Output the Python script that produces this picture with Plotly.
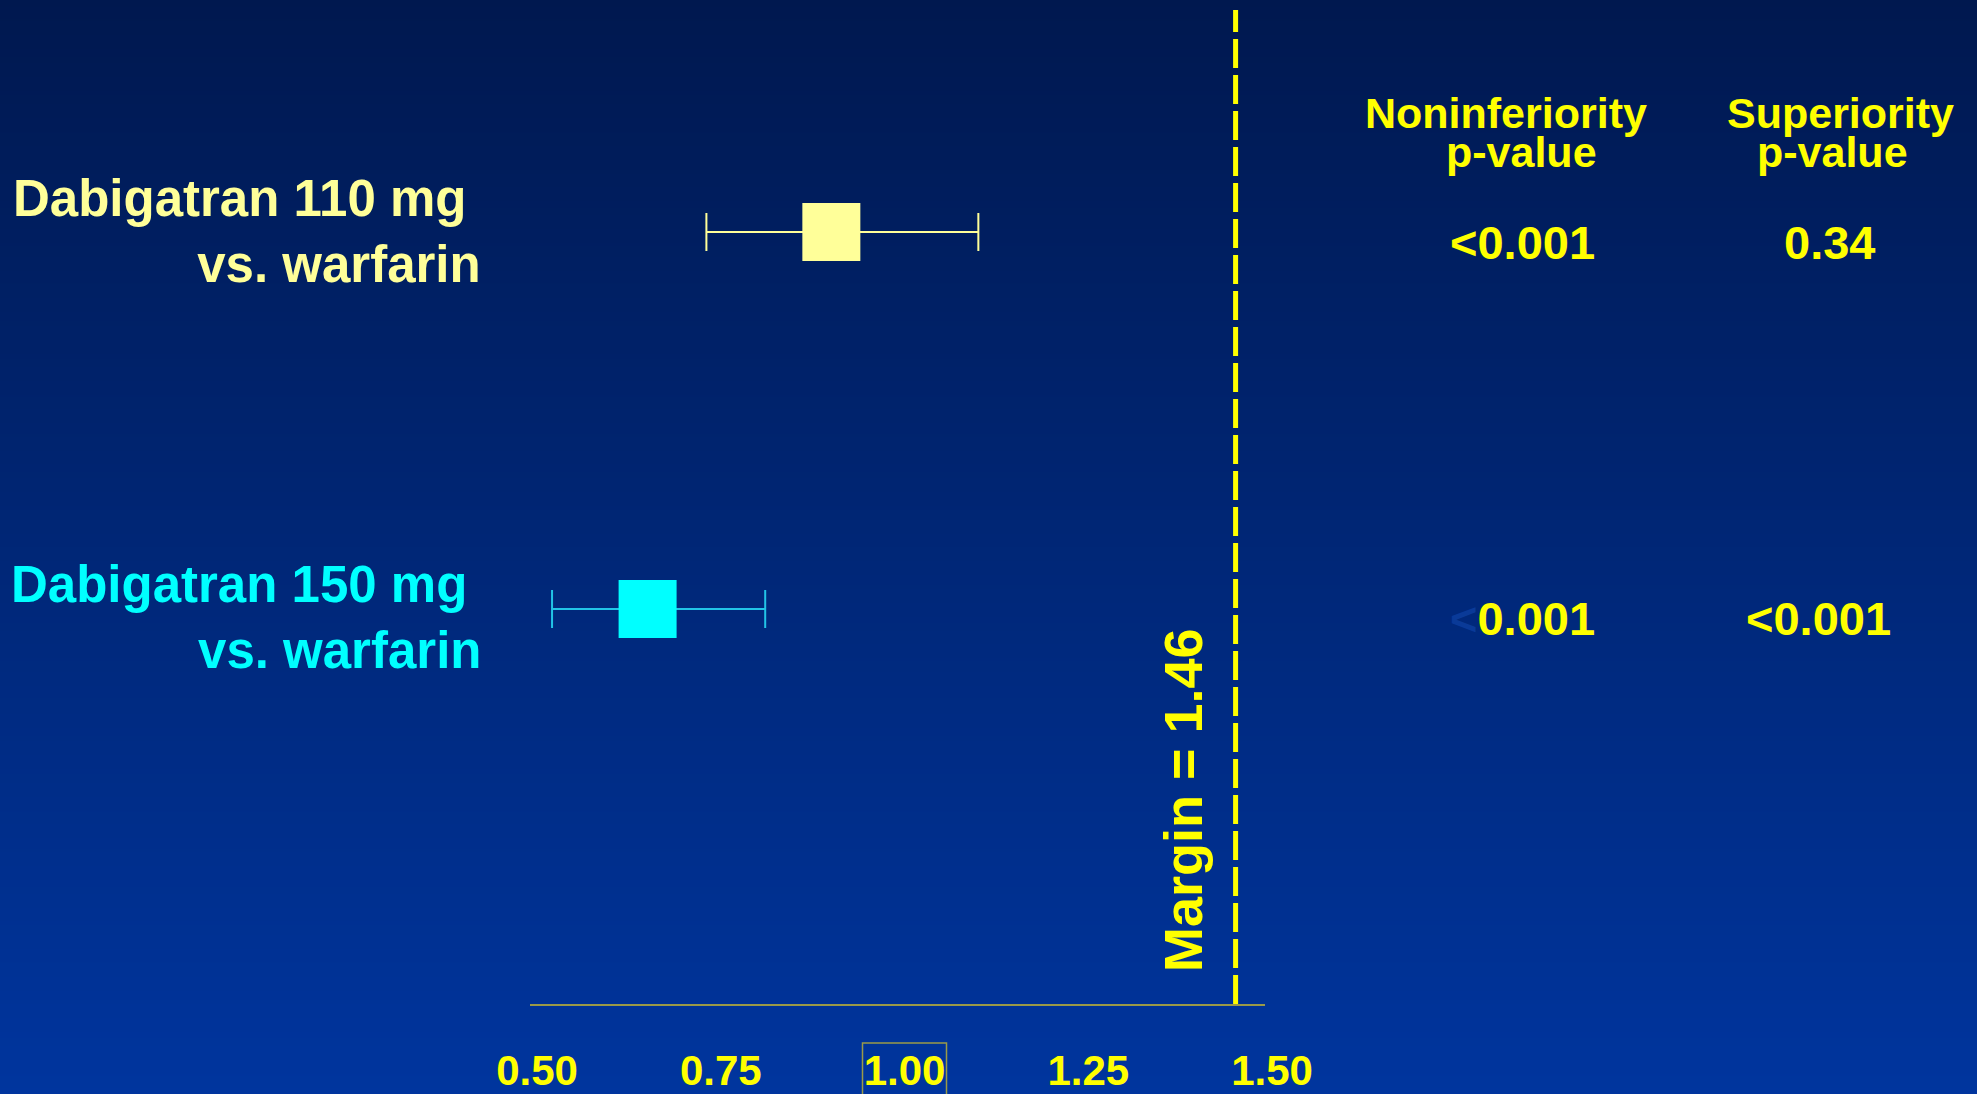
import plotly.graph_objects as go

# ---- data -------------------------------------------------------------
treatments = ["Dabigatran 110 mg", "Dabigatran 150 mg"]
comparator = "vs. warfarin"
risk_ratio = [0.91, 0.66]
ci_low = [0.74, 0.53]
ci_high = [1.11, 0.82]
noninferiority_p = ["<0.001", "<0.001"]
superiority_p = ["0.34", "<0.001"]
noninferiority_margin = 1.46
x_ticks = [0.50, 0.75, 1.00, 1.25, 1.50]
x_tick_labels = ["0.50", "0.75", "1.00", "1.25", "1.50"]
header_noninf = ["Noninferiority", "p-value"]
header_sup = ["Superiority", "p-value"]

# ---- style ------------------------------------------------------------
FONT = "Liberation Sans, Arial, Helvetica, sans-serif"
YELLOW = "#ffff00"
OLIVE = "#9a9a48"
row_fill = ["#ffff99", "#00ffff"]
row_whisker = ["#ffff99", "#22c4e6"]
row_label_color = ["#ffff99", "#00ffff"]
lt_color = [YELLOW, "#0a3a98"]          # colour of the "<" sign in the noninferiority column
row_pos = [2, 1]
label_shift = [1, -8]
value_shift = [-10, -9]

fig = go.Figure()

# background gradient (navy at the top fading to a brighter blue at the bottom)
fig.add_trace(go.Heatmap(
    x=[0, 1], y=[0, 1], z=[[1, 1], [0, 0]],
    colorscale=[[0, "#00184f"], [1, "#00359e"]],
    zsmooth="best", showscale=False, hoverinfo="skip",
    xaxis="x", yaxis="y",
))

# forest-plot rows: square point estimate with CI whiskers
for i, name in enumerate(treatments):
    fig.add_trace(go.Scatter(
        x=[risk_ratio[i]], y=[row_pos[i]],
        mode="markers",
        marker=dict(symbol="square", size=58, color=row_fill[i], line=dict(width=0)),
        error_x=dict(
            type="data", symmetric=False,
            array=[ci_high[i] - risk_ratio[i]],
            arrayminus=[risk_ratio[i] - ci_low[i]],
            color=row_whisker[i], thickness=2, width=19,
        ),
        xaxis="x2", yaxis="y2", hoverinfo="skip", showlegend=False,
    ))

# plot area geometry
x_dom = [530 / 1977, 1265 / 1977]
y_dom = [(1094 - 1004) / 1094, (1094 - 6) / 1094]

fig.update_layout(
    width=1977, height=1094, autosize=False,
    margin=dict(l=0, r=0, t=0, b=0, pad=0),
    paper_bgcolor="#002270", plot_bgcolor="rgba(0,0,0,0)",
    showlegend=False,
    xaxis=dict(domain=[0, 1], range=[0, 1], visible=False, fixedrange=True, automargin=False),
    yaxis=dict(domain=[0, 1], range=[0, 1], visible=False, fixedrange=True, automargin=False),
    xaxis2=dict(
        domain=x_dom, range=[0.5, 1.5], anchor="y2", automargin=False,
        showline=True, linecolor=OLIVE, linewidth=2,
        showgrid=False, zeroline=False, ticks="",
        tickvals=x_ticks, ticktext=x_tick_labels,
        tickfont=dict(family=FONT, size=42, color=YELLOW, weight="bold"),
        ticklabelstandoff=29, ticklabelshift=7,
    ),
    yaxis2=dict(
        domain=y_dom, range=[-0.0477, 2.5995], anchor="x2", automargin=False,
        visible=False, showgrid=False, zeroline=False,
    ),
)

shapes = [
    # line of no effect
    dict(type="line", xref="x2", yref="y2 domain", x0=1.0, x1=1.0, y0=0, y1=1,
         line=dict(color=OLIVE, width=2), layer="below"),
    # noninferiority margin
    dict(type="line", xref="x2", yref="y2 domain",
         x0=noninferiority_margin, x1=noninferiority_margin, y0=0, y1=0.996,
         line=dict(color=YELLOW, width=5, dash="29px,7px")),
    # frame around the 1.00 tick label
    dict(type="rect", xref="x2", xsizemode="pixel", xanchor=1.0, x0=-35, x1=49,
         yref="paper", ysizemode="pixel", yanchor=0, y0=-6, y1=51,
         line=dict(color=OLIVE, width=1.5), fillcolor="rgba(0,0,0,0)"),
]
fig.update_layout(shapes=shapes)

ann = []
# row labels
for i, name in enumerate(treatments):
    ann.append(dict(
        xref="paper", yref="y2", x=483 / 1977, y=row_pos[i],
        xanchor="right", yanchor="middle", align="right", yshift=label_shift[i],
        text=f"{name}\u00a0<br>{comparator}", showarrow=False,
        font=dict(family=FONT, size=51, color=row_label_color[i], weight="bold"),
    ))

# column headers
for text, xc, yc in [(header_noninf[0], 1506, 113), (header_noninf[1], 1521, 152),
                     (header_sup[0], 1840, 113), (header_sup[1], 1832, 152)]:
    ann.append(dict(
        xref="paper", yref="paper", x=xc / 1977, y=(1094 - yc) / 1094,
        xanchor="center", yanchor="middle", text=text, showarrow=False,
        font=dict(family=FONT, size=43, color=YELLOW, weight="bold"),
    ))

# p-values
def fmt_p(p, lt_col):
    if p.startswith("<"):
        return f"<span style='color:{lt_col}'>&lt;</span>{p[1:]}"
    return p

for i in range(len(treatments)):
    ann.append(dict(
        xref="paper", yref="y2", x=1522 / 1977, y=row_pos[i], yshift=value_shift[i],
        xanchor="center", yanchor="middle",
        text=fmt_p(noninferiority_p[i], lt_color[i]), showarrow=False,
        font=dict(family=FONT, size=47, color=YELLOW, weight="bold"),
    ))
    ann.append(dict(
        xref="paper", yref="y2", x=(1829 if superiority_p[i] == "0.34" else 1818) / 1977,
        y=row_pos[i], yshift=value_shift[i],
        xanchor="center", yanchor="middle",
        text=fmt_p(superiority_p[i], YELLOW), showarrow=False,
        font=dict(family=FONT, size=47, color=YELLOW, weight="bold"),
    ))

# margin label, rotated alongside the dashed line
ann.append(dict(
    xref="paper", yref="paper", x=1183 / 1977, y=(1094 - 800) / 1094,
    xanchor="center", yanchor="middle", textangle=-90,
    text=f"Margin = {noninferiority_margin:.2f}", showarrow=False,
    font=dict(family=FONT, size=54, color=YELLOW, weight="bold"),
))

fig.update_layout(annotations=ann)

fig.write_html("out.html")
